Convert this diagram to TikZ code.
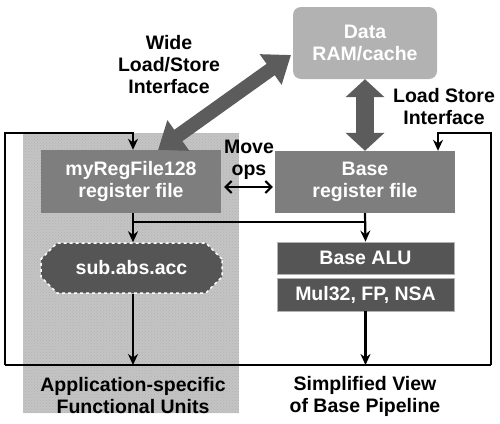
\documentclass[tikz,border=0pt]{standalone}
\usepackage{fontspec}
\setmainfont{Liberation Sans}
\usetikzlibrary{arrows.meta,shapes.misc,patterns}
\definecolor{ramgray}{HTML}{B2B2B2}
\definecolor{rfgray}{HTML}{7E7E7E}
\definecolor{dkgray}{HTML}{555555}
\definecolor{arrgray}{HTML}{5C5C5C}
\definecolor{panelgray}{HTML}{C4C4C4}
\begin{document}
\begin{tikzpicture}[x=1pt,y=-1pt,
  font=\fontsize{19.5}{22}\selectfont\bfseries,
  box/.style={rectangle,inner sep=0pt,align=center,text=white},
  lbl/.style={align=center,inner sep=0pt,text=black},
  conn/.style={draw=black,line width=2.2pt,-{Stealth[length=11pt,width=10pt]}},
  wire/.style={draw=black,line width=2.2pt},
]
\useasboundingbox (0,0) rectangle (500,423);
% panel
\fill[panelgray] (23,133) rectangle (239,413);
\fill[pattern=crosshatch dots,pattern color=black!30] (23,133) rectangle (239,413);

% nodes
\node[box,fill=ramgray,rounded corners=8pt,minimum width=144pt,minimum height=72pt] (ram) at (365,43) {Data\\RAM/cache};
\node[box,fill=rfgray,minimum width=180pt,minimum height=63pt] (rf) at (131,181.5) {myRegFile128\\register file};
\node[box,fill=rfgray,minimum width=180pt,minimum height=62pt] (base) at (365,182) {Base\\register file};
\node[box,fill=dkgray,draw=white,dashed,line width=1.5pt,chamfered rectangle,chamfered rectangle xsep=9pt,chamfered rectangle ysep=9pt,minimum width=181pt,minimum height=50pt] (sub) at (131.5,268) {sub.abs.acc};
\node[box,fill=dkgray,draw=black!30,line width=0.8pt,minimum width=177pt,minimum height=32pt] (alu) at (365.5,258) {Base ALU};
\node[box,fill=dkgray,draw=black!30,line width=0.8pt,minimum width=177pt,minimum height=33pt] (mul) at (365.5,294.5) {Mul32, FP, NSA};

% labels
\node[lbl] (wide) at (169,65) {Wide\\Load/Store\\Interface};
\node[lbl] (lsi) at (444,107) {Load Store\\Interface};
\node[lbl] (move) at (249,160) {Move\\ops};
\node[lbl] (app) at (133,396) {Application-specific\\Functional Units};
\node[lbl] (simp) at (365,396) {Simplified View\\of Base Pipeline};

% coordinates for wiring
\coordinate (bl) at (5,365);
\coordinate (br) at (491,365);
\coordinate (tl) at (133,133);
\coordinate (tr) at (438,133);
\coordinate (brk) at (133,222);
\coordinate (ramA) at (291,55);
\coordinate (rfA) at (158,150);

% big arrows
\draw[draw=arrgray,line width=14pt,{Triangle[length=25pt,width=36pt]}-{Triangle[length=25pt,width=36pt]}] (rfA) -- (ramA);
\draw[draw=arrgray,line width=18pt,{Triangle[length=18pt,width=38pt]}-{Triangle[length=18pt,width=38pt]}] (ram.south) -- (base.north);

% loops
\draw[wire] (bl) -- (br);
\draw[conn] (bl) |- (tl) -- (tl |- rf.north);
\draw[conn] (br) |- (tr) -- (tr |- base.north);

% data flow
\draw[conn] (tl |- rf.south) -- (tl |- sub.north);
\draw[wire] (brk) -- (brk -| base.south);
\draw[conn] (base.south) -- (alu.north);
\draw[conn] (tl |- sub.south) -- (tl |- bl);
\draw[conn] (mul.south) -- (mul.south |- br);

% move ops
\draw[line width=2pt,{Straight Barb[length=6pt,width=12pt]}-{Straight Barb[length=6pt,width=12pt]},shorten <=3pt,shorten >=2pt] (rf.east |- 0,187) -- (base.west |- 0,187);
\end{tikzpicture}
\end{document}
